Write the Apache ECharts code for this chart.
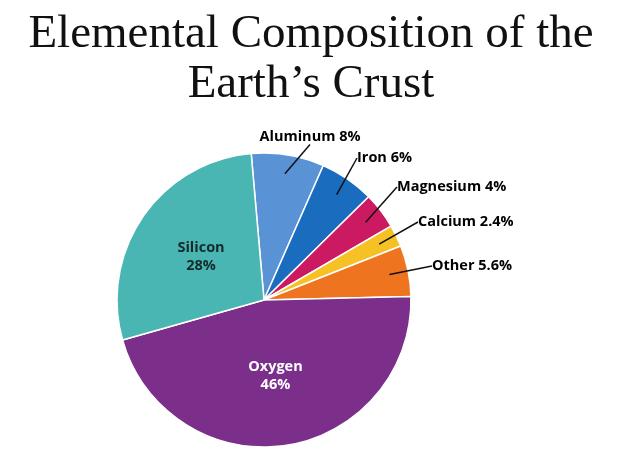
<!DOCTYPE html>
<html>
<head>
<meta charset="utf-8">
<script src="https://cdn.jsdelivr.net/npm/echarts@6/dist/echarts.min.js"></script>
<style>
html,body{margin:0;padding:0;background:#fff;}
#chart{width:629px;height:466px;}
</style>
</head>
<body>
<div id="chart"></div>
<script>
// Data
var elements = ['Aluminum', 'Iron', 'Magnesium', 'Calcium', 'Other', 'Oxygen', 'Silicon'];
var percents = [8, 6, 4, 2.4, 5.6, 46, 28];
var colors = ['#5a93d5', '#1a6cbf', '#cc1a62', '#f5c125', '#ee7420', '#7b2f8b', '#4ab6b3'];
var outsideLabeled = ['Aluminum', 'Iron', 'Magnesium', 'Calcium', 'Other'];

// Label placement (layout only): anchor point and alignment of each outside label
var labelPlace = {
  'Aluminum':  {x: 310, y: 137, align: 'center'},
  'Iron':      {x: 357, y: 158, align: 'left'},
  'Magnesium': {x: 397, y: 187, align: 'left'},
  'Calcium':   {x: 418, y: 222, align: 'left'},
  'Other':     {x: 432, y: 266, align: 'left'}
};

var chart = echarts.init(document.getElementById('chart'), null, {renderer: 'canvas'});

var mainData = elements.map(function (n, i) {
  var inside = outsideLabeled.indexOf(n) < 0;
  return {
    name: n,
    value: percents[i],
    itemStyle: {color: colors[i]},
    label: {
      show: inside,
      position: 'inside',
      formatter: '{b}\n{c}%',
      color: n === 'Oxygen' ? '#ffffff' : '#152a2a',
      fontFamily: 'Open Sans',
      fontWeight: 'bold',
      fontSize: 14.5,
      lineHeight: 18
    }
  };
});

var guideData = elements.map(function (n, i) {
  var show = outsideLabeled.indexOf(n) >= 0;
  return {
    name: n,
    value: percents[i],
    label: {show: show},
    labelLine: {show: show}
  };
});

chart.setOption({
  backgroundColor: '#ffffff',
  animation: false,
  title: {
    text: 'Elemental Composition of the\nEarth\u2019s Crust',
    left: 306,
    top: 5,
    textAlign: 'center',
    textStyle: {
      fontFamily: 'Liberation Serif',
      fontWeight: 'normal',
      fontSize: 47,
      lineHeight: 50,
      color: '#111111'
    }
  },
  series: [
    {
      type: 'pie',
      z: 1,
      center: [264, 300],
      radius: [0, 147],
      startAngle: 95,
      clockwise: true,
      silent: true,
      itemStyle: {borderColor: '#ffffff', borderWidth: 1.5},
      labelLine: {show: false},
      data: mainData
    },
    {
      type: 'pie',
      z: 5,
      center: [264, 300],
      radius: [0, 128],
      startAngle: 95,
      clockwise: true,
      silent: true,
      itemStyle: {color: 'rgba(0,0,0,0)', borderWidth: 0},
      label: {
        position: 'outside',
        formatter: '{b} {c}%',
        color: '#000000',
        fontFamily: 'Open Sans',
        fontWeight: 'bold',
        fontSize: 14.5
      },
      labelLine: {
        length: 10,
        length2: 0,
        lineStyle: {color: '#111111', width: 1.5}
      },
      labelLayout: function (params) {
        var name = elements[params.dataIndex];
        var p = labelPlace[name];
        if (!p) return {};
        return {x: p.x, y: p.y, align: p.align, verticalAlign: 'middle'};
      },
      data: guideData
    }
  ]
});
</script>
</body>
</html>
